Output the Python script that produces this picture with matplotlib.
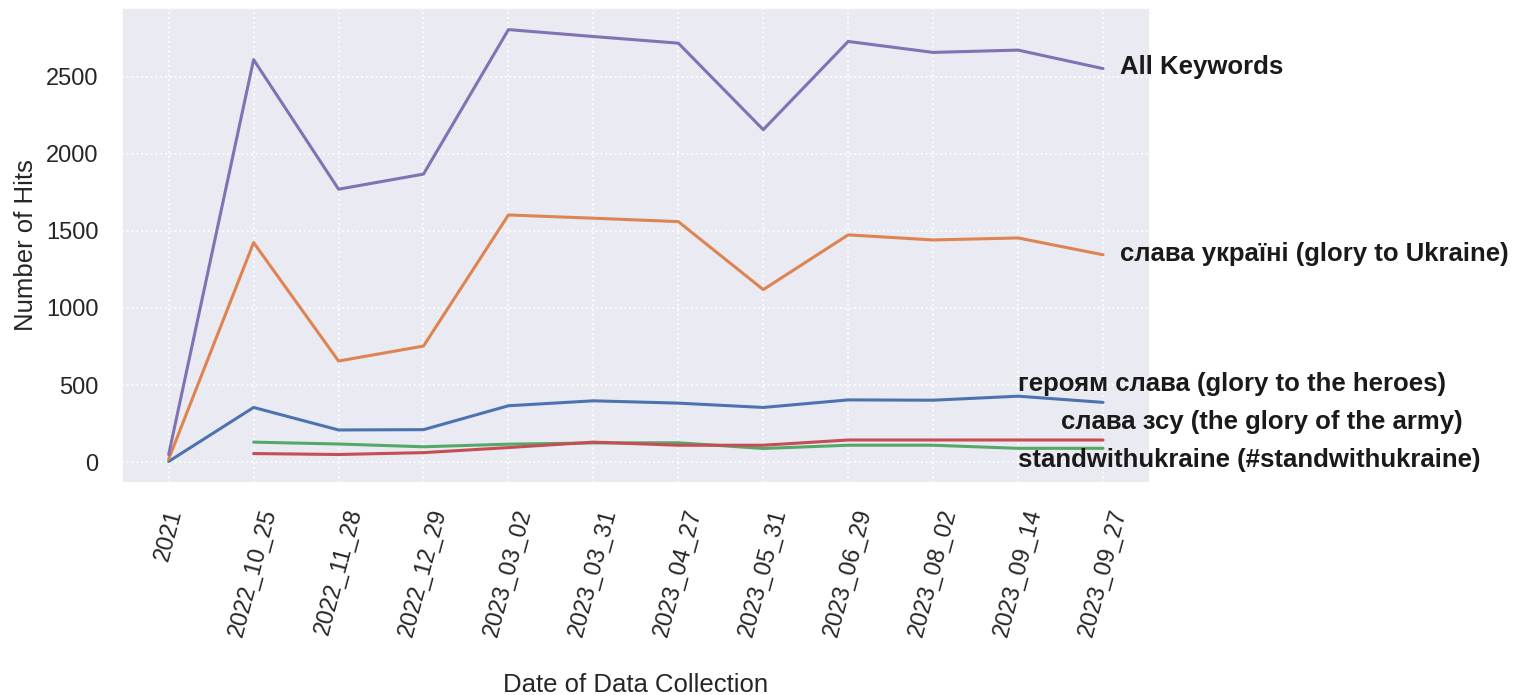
import numpy as np
import seaborn as sns
from matplotlib import pyplot as plt

dates = ['2021', '2022_10_25', '2022_11_28', '2022_12_29', '2023_03_02', '2023_03_31',
         '2023_04_27', '2023_05_31', '2023_06_29', '2023_08_02', '2023_09_14', '2023_09_27']

heroyam_slava = [5, 355, 209, 211, 366, 398, 383, 355, 404, 402, 428, 388]
slava_ukraini = [20, 1424, 656, 753, 1603, 1582, 1560, 1119, 1474, 1441, 1454, 1345]
standwithukraine = [np.nan, 130, 118, 100, 117, 125, 126, 89, 110, 110, 90, 90]
slava_zsu = [np.nan, 56, 50, 62, 95, 130, 110, 110, 144, 144, 144, 144]
all_keywords = [50, 2610, 1770, 1868, 2805, 2760, 2717, 2156, 2728, 2657, 2672, 2552]

series = [heroyam_slava, slava_ukraini, standwithukraine, slava_zsu, all_keywords]
labels = ['героям слава (glory to the heroes)', 'слава україні (glory to Ukraine)',
          'standwithukraine (#standwithukraine)', 'слава зсу (the glory of the army)',
          'All Keywords']
# where each name sits (x in category units, y in hits)
label_pos = [(10.0, 505), (11.2, 1353), (10.0, 15), (10.5, 262), (11.2, 2560)]

sns.set_theme(style='darkgrid')
plt.rcParams['font.family'] = ['Liberation Sans', 'DejaVu Sans']

fig = plt.figure(figsize=(15.34, 6.95), dpi=100)
ax = fig.add_axes([0.0795, 0.305, 0.670, 0.6835])

x = np.arange(len(dates))
pal = sns.color_palette('deep')
for i, ys in enumerate(series):
    ax.plot(x, ys, color=pal[i], lw=2.2)

for (lx, ly), txt in zip(label_pos, labels):
    ax.text(lx, ly, txt, ha='left', va='center', fontsize=18.5, fontweight='bold',
            color='#1a1a1a', clip_on=False)

ax.grid(True, color='white', linestyle=':', linewidth=1.3)
ax.set_xticks(x)
ax.set_xticklabels(dates, rotation=75, fontsize=17)
ax.tick_params(axis='both', labelsize=17, pad=11)
ax.set_yticks([0, 500, 1000, 1500, 2000, 2500])
ax.set_ylabel('Number of Hits', fontsize=18.5, labelpad=6)
ax.set_xlabel('Date of Data Collection', fontsize=18.5, labelpad=24)

fig.savefig('out.png', dpi=100)
